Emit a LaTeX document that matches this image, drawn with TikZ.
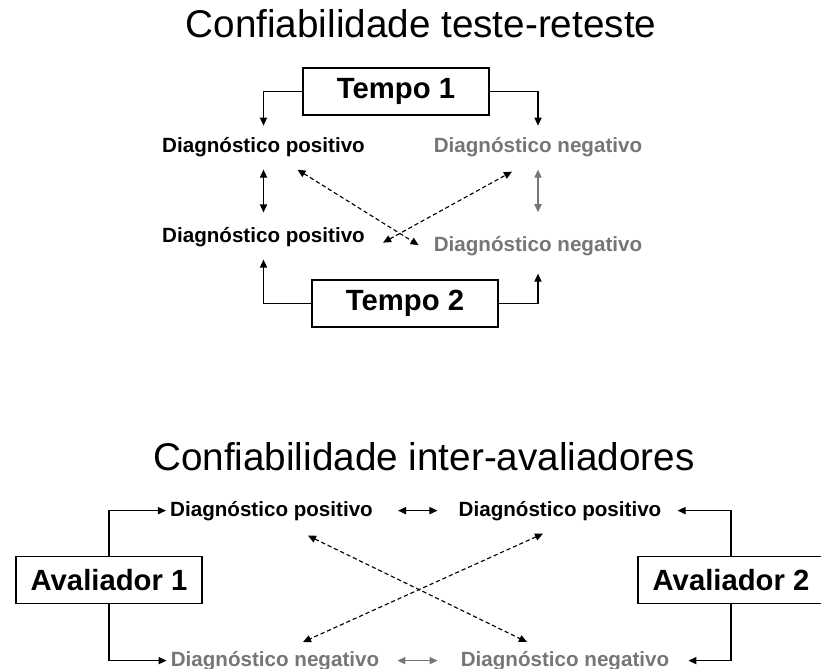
\documentclass[tikz,border=0pt]{standalone}
\usepackage{fontspec}
\setmainfont{Liberation Sans}
\usepackage{tikz}
\usetikzlibrary{arrows.meta,calc}
\definecolor{DiagGray}{RGB}{118,118,118}

\begin{document}
\begin{tikzpicture}[x=0.025cm,y=-0.025cm,
  title/.style={anchor=base,font=\fontsize{27.5}{32}\selectfont},
  timebox/.style={draw=black,line width=0.8pt,minimum width=4.65cm,minimum height=1.175cm,
                  inner sep=0pt,font=\bfseries\fontsize{20.8}{24}\selectfont},
  diag/.style={anchor=base,inner xsep=0.1cm,inner ysep=0.3cm,font=\bfseries\fontsize{14.65}{17}\selectfont},
  conn/.style={line width=0.8pt,-{Triangle[length=0.2cm,width=0.18cm]}},
  twoway/.style={line width=0.8pt,{Triangle[length=0.2cm,width=0.18cm]}-{Triangle[length=0.2cm,width=0.18cm]}},
  cross/.style={twoway,dash pattern=on 3pt off 2pt},
]
\useasboundingbox (0,0) rectangle (821,669);

\node[title] (tt1) at (421,38) {Confiabilidade teste-reteste};
\node[timebox] (t1) at (396,91.5) {Tempo 1};
\node[timebox] (t2) at (405,303.5) {Tempo 2};
\node[diag] (p1) at (263.5,153) {Diagnóstico positivo};
\node[diag,text=DiagGray] (n1) at (538,153) {Diagnóstico negativo};
\node[diag] (p2) at (263.5,243) {Diagnóstico positivo};
\node[diag,text=DiagGray] (n2) at (538,252) {Diagnóstico negativo};

\draw[conn] (t1.west) -| (p1.north);
\draw[conn] (t1.east) -| (n1.north);
\draw[conn] (t2.west) -| (p2.south);
\draw[conn,shorten >=0.125cm] (t2.east) -| (n2.south);
\draw[twoway,shorten >=0.08cm] (p1.south) -- (p2.north);
\draw[twoway,DiagGray,shorten >=0.31cm] (n1.south) -- (n2.north);
\draw[cross] ($(p1.south)+(34,0)$) -- ($(n2.west)+(-11,-1.5)$);
\draw[cross] ($(p2.east)+(14,5)$) -- ($(n1.south)+(-26,2)$);

\node[title] (tt2) at (424,470) {Confiabilidade inter-avaliadores};
\node[timebox] (a1) at (109,580) {Avaliador 1};
\node[timebox] (a2) at (731,580) {Avaliador 2};
\node[diag,inner ysep=0.1cm] (bp1) at (271.5,516) {Diagnóstico positivo};
\node[diag,inner ysep=0.1cm] (bp2) at (560,516) {Diagnóstico positivo};
\node[diag,inner ysep=0.1cm,text=DiagGray] (bn1) at (275,666) {Diagnóstico negativo};
\node[diag,inner ysep=0.1cm,text=DiagGray] (bn2) at (565,666) {Diagnóstico negativo};

\draw[conn] (a1.north) |- (bp1.west);
\draw[conn] (a1.south) |- (bn1.west);
\draw[conn,shorten >=0.3cm] (a2.north) |- (bp2.east);
\draw[conn,shorten >=0.375cm] (a2.south) |- (bn2.east);
\draw[twoway,shorten <=0.525cm,shorten >=0.425cm] (bp1.east) -- (bp2.west);
\draw[twoway,DiagGray,shorten <=0.35cm,shorten >=0.475cm] (bn1.east) -- (bn2.west);
\draw[cross] ($(bp1.south)+(36.5,11)$) -- ($(bn2.north)+(-38,-4.6)$);
\draw[cross] ($(bp2.south)+(-17,9)$) -- ($(bn1.north)+(28,-4.6)$);
\end{tikzpicture}
\end{document}
